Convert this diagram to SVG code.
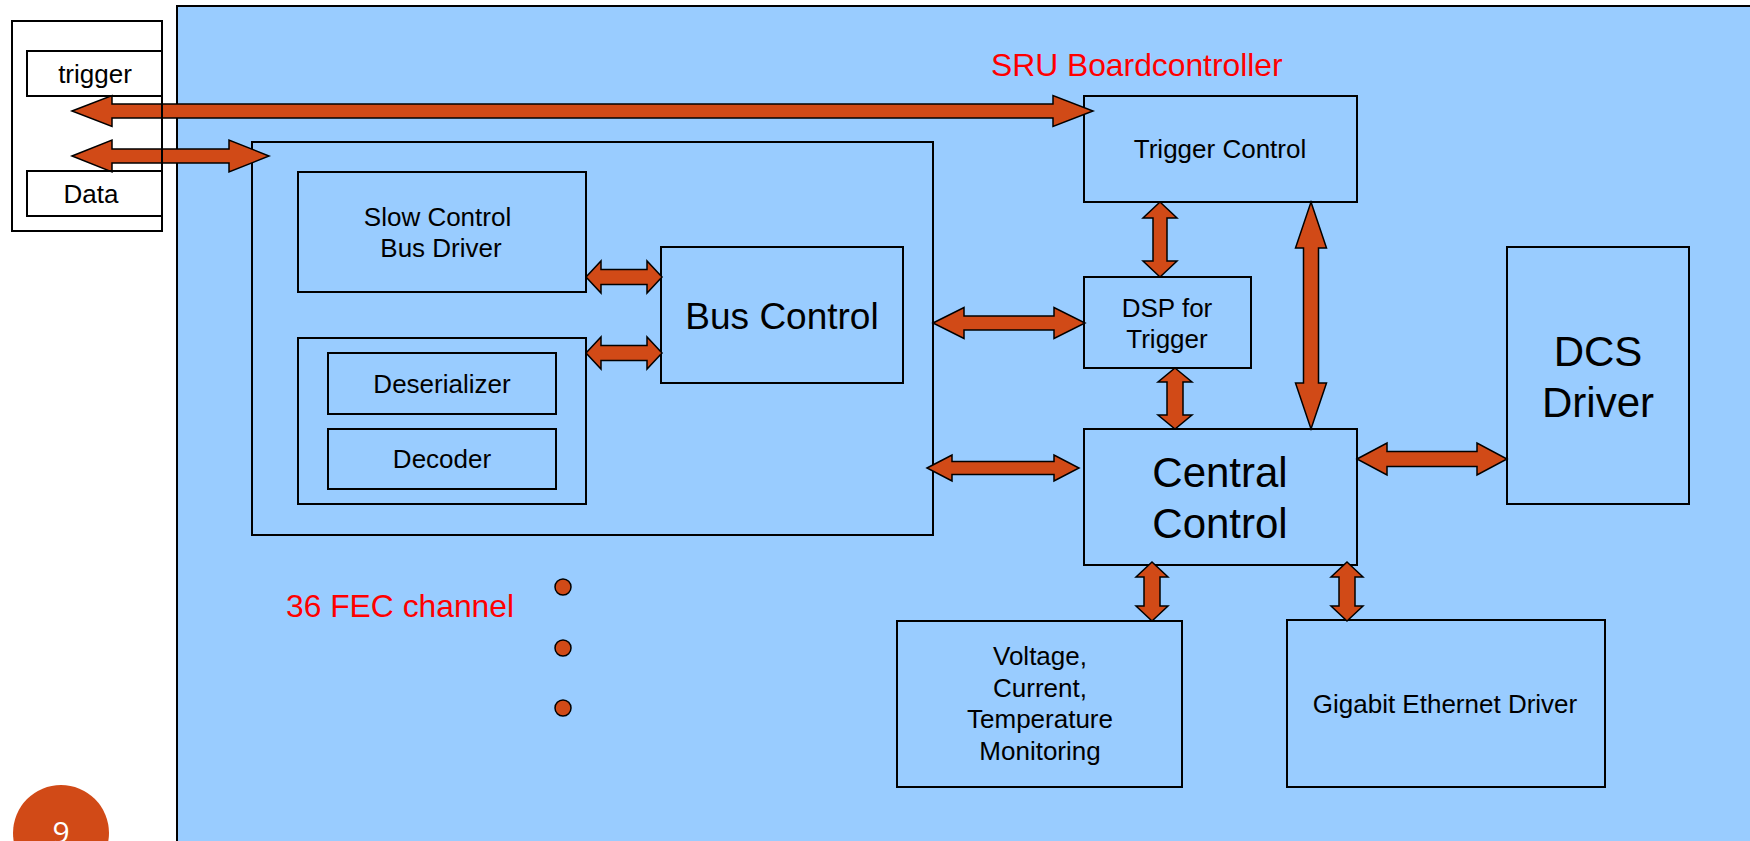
<svg xmlns="http://www.w3.org/2000/svg" width="1750" height="841" viewBox="0 0 1750 841">
<style>
.box{fill:#99CCFF;stroke:#000;stroke-width:2}
.wbox{fill:none;stroke:#000;stroke-width:2}
.arr{fill:#D14A17;stroke:#000;stroke-width:1.5;stroke-linejoin:miter}
.t{font-family:"Liberation Sans",Arial,sans-serif;font-size:26px;fill:#000;text-anchor:middle}
.red{font-family:"Liberation Sans",Arial,sans-serif;font-size:31.8px;fill:#FF0000}
.dot{fill:#D14A17;stroke:#000;stroke-width:1.5}
</style>
<rect width="1750" height="841" fill="#fff"/>
<g id="board"><rect x="177" y="6" width="1600" height="900" class="box"/></g>
<text class="red" x="991" y="76">SRU Boardcontroller</text>
<g id="fec"><rect x="252" y="142" width="681" height="393" class="box"/></g>
<g id="slow-control"><rect x="298" y="172" width="288" height="120" class="box"/>
<text class="t" x="437.5" y="226">Slow Control</text><text class="t" x="441" y="257">Bus Driver</text></g>
<g id="deser-group"><rect x="298" y="338" width="288" height="166" class="box"/></g>
<g id="deserializer"><rect x="328" y="353" width="228" height="61" class="box"/><text class="t" x="442" y="393">Deserializer</text></g>
<g id="decoder"><rect x="328" y="429" width="228" height="60" class="box"/><text class="t" x="442" y="468">Decoder</text></g>
<g id="bus-control"><rect x="661" y="247" width="242" height="136" class="box"/><text class="t" x="782" y="329" style="font-size:37px">Bus Control</text></g>
<g id="trigger-control"><rect x="1084" y="96" width="273" height="106" class="box"/><text class="t" x="1220" y="158">Trigger Control</text></g>
<g id="dsp"><rect x="1084" y="277" width="167" height="91" class="box"/><text class="t" x="1167" y="317">DSP for</text><text class="t" x="1167" y="348">Trigger</text></g>
<g id="central-control"><rect x="1084" y="429" width="273" height="136" class="box"/><text class="t" x="1220" y="487" style="font-size:42px">Central</text><text class="t" x="1220" y="538" style="font-size:42px">Control</text></g>
<g id="dcs"><rect x="1507" y="247" width="182" height="257" class="box"/><text class="t" x="1598" y="366" style="font-size:42px">DCS</text><text class="t" x="1598" y="417" style="font-size:42px">Driver</text></g>
<g id="monitoring"><rect x="897" y="621" width="285" height="166" class="box"/>
<text class="t" x="1040" y="665">Voltage,</text><text class="t" x="1040" y="697">Current,</text><text class="t" x="1040" y="728">Temperature</text><text class="t" x="1040" y="760">Monitoring</text></g>
<g id="gigabit"><rect x="1287" y="620" width="318" height="167" class="box"/><text class="t" x="1445" y="713">Gigabit Ethernet Driver</text></g>
<text class="red" x="286" y="617">36 FEC channel</text>
<g id="dots"><circle cx="563" cy="587" r="8" class="dot"/><circle cx="563" cy="648" r="8" class="dot"/><circle cx="563" cy="708" r="8" class="dot"/></g>
<g id="connectors">
<polygon class="arr" points="72,111 112,95.5 112,104 1053,104 1053,95.5 1093,111 1053,126.5 1053,118 112,118 112,126.5"/>
<polygon class="arr" points="72,156 112,140 112,149 229,149 229,140 269,156 229,172 229,163 112,163 112,172"/>
<polygon class="arr" points="586,277 601,261 601,269.5 647,269.5 647,261 662,277 647,293 647,284.5 601,284.5 601,293"/>
<polygon class="arr" points="586,353 601,337 601,345.5 647,345.5 647,337 662,353 647,369 647,360.5 601,360.5 601,369"/>
<polygon class="arr" points="933,323 964,307.5 964,316 1054,316 1054,307.5 1085,323 1054,338.5 1054,330 964,330 964,338.5"/>
<polygon class="arr" points="927,468 952,455 952,461.5 1054,461.5 1054,455 1079,468 1054,481 1054,474.5 952,474.5 952,481"/>
<polygon class="arr" points="1357,459 1387,443 1387,451.5 1477,451.5 1477,443 1507,459 1477,475 1477,466.5 1387,466.5 1387,475"/>
<polygon class="arr" points="1160,202 1177,218 1167,218 1167,261 1177,261 1160,277 1143,261 1153,261 1153,218 1143,218"/>
<polygon class="arr" points="1175,368 1192,382 1183,382 1183,415 1192,415 1175,429 1158,415 1167,415 1167,382 1158,382"/>
<polygon class="arr" points="1311,202 1326.5,248 1318.5,248 1318.5,383 1326.5,383 1311,429 1295.5,383 1303.5,383 1303.5,248 1295.5,248"/>
<polygon class="arr" points="1152,562 1168,577 1160,577 1160,606 1168,606 1152,621 1136,606 1144,606 1144,577 1136,577"/>
<polygon class="arr" points="1347,562 1363,577 1355,577 1355,606 1363,606 1347,621 1331,606 1339,606 1339,577 1331,577"/>
</g>
<g id="external">
<rect x="12" y="21" width="150" height="210" class="wbox"/>
<g id="trigger"><rect x="27" y="51" width="135" height="45" class="wbox"/><text class="t" x="95" y="83">trigger</text></g>
<g id="data"><rect x="27" y="171" width="135" height="45" class="wbox"/><text class="t" x="91" y="203">Data</text></g>
</g>
<g id="page-number"><circle cx="61" cy="833" r="48" fill="#D14A17"/><text x="61" y="843" font-family="'Open Sans','Liberation Sans',sans-serif" font-size="30" fill="#fff" text-anchor="middle">9</text></g>
</svg>
